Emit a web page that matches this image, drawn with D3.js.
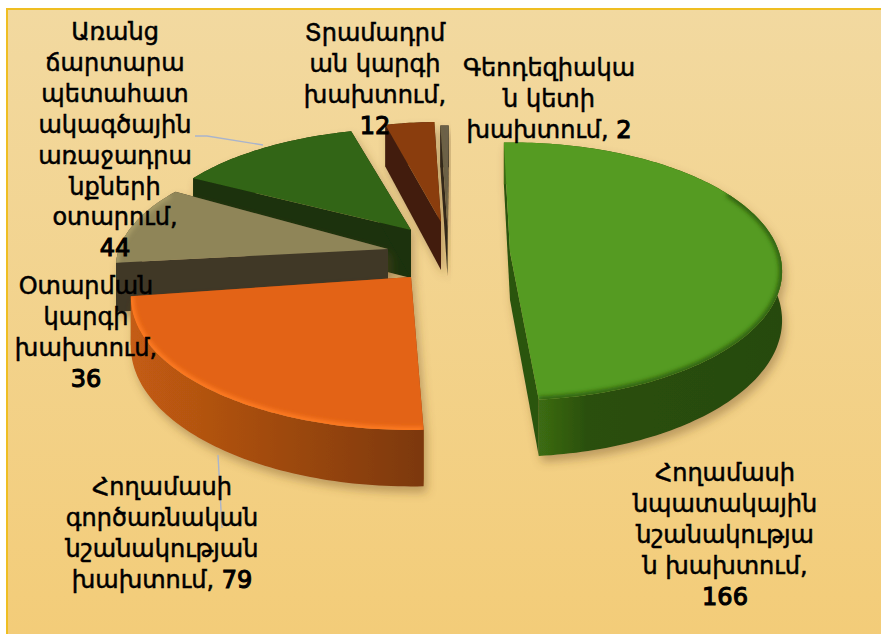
<!DOCTYPE html>
<html><head><meta charset="utf-8">
<script src="https://cdn.jsdelivr.net/npm/d3@7"></script>
<style>html,body{margin:0;padding:0;background:#fff}svg{display:block}</style>
</head><body><svg id="c" width="881" height="634"></svg>
<script>
// Data
const categories = [
  "Հողամասի նպատակային նշանակության խախտում",
  "Հողամասի գործառնական նշանակության խախտում",
  "Օտարման կարգի խախտում",
  "Առանց ճարտարապետահատակագծային առաջադրանքների օտարում",
  "Տրամադրման կարգի խախտում",
  "Գեոդեզիական կետի խախտում"
];
const values = [166, 79, 36, 44, 12, 2];
const labelLines = [
  ["Հողամասի","նպատակային","նշանակությա","ն խախտում,","166"],
  ["Հողամասի","գործառնական","նշանակության","խախտում, 79"],
  ["Օտարման","կարգի","խախտում,","36"],
  ["Առանց","ճարտարա","պետահատ","ակագծային","առաջադրա","նքների","օտարում,","44"],
  ["Տրամադրմ","ան կարգի","խախտում,","12"],
  ["Գեոդեզիակա","ն կետի","խախտում, 2"]
];

// Layout (separate from the data)
const W = 881, H = 634, K = 0.15, DEPTH = 48, START = -1.5;
const explode = [
  {x:510,y:252,rx:269,ry:126,turn:0},
  {x:411,y:277,rx:277,ry:130,turn:3.0},
  {x:388,y:249,rx:269,ry:118,turn:4.7},
  {x:411,y:230,rx:265,ry:117,turn:1.4},
  {x:441,y:222,rx:255,ry:115,turn:1.9},
  {x:447.5,y:228,rx:260,ry:118,turn:1.8}
];
const looks = [
  {top:"#549b20",rim:"#2f5f10",wall:["#3c6c12","#2a4f0e","#274a0c"],cut:"#2c5410"},
  {top:"#e36418",rim:"#ff7c22",wall:["#7c380c","#a04a10","#c45c12"],cut:"#8a3e0e"},
  {top:"#8f8558",rim:"#a89c68",wall:["#403828","#403828","#403828"],cut:"#403828"},
  {top:"#336515",rim:"#336515",wall:["#1a330a","#1a330a","#1a330a"],cut:"#1a330a"},
  {top:"#8a3e0c",rim:"#8a3e0c",wall:["#431f08","#431f08","#431f08"],cut:"#431f08"},
  {top:"#6c6248",rim:"#6c6248",wall:["#2a2418","#2a2418","#2a2418"],cut:"#2a2418"}
];
const labelPos = [
  {x:725,y:481,dy:31},{x:162,y:495,dy:31},{x:86,y:294,dy:31},
  {x:115,y:40,dy:30.9},{x:375,y:41,dy:31},{x:549,y:76,dy:31}
];

const svg = d3.select("#c");
const defs = svg.append("defs");

const bg = defs.append("linearGradient").attr("id","bg").attr("x1",0).attr("y1",0).attr("x2",0).attr("y2",1);
bg.append("stop").attr("offset",0).attr("stop-color","#f2d9a0");
bg.append("stop").attr("offset",1).attr("stop-color","#f3cc78");

defs.append("filter").attr("id","shadow").attr("x","-20%").attr("y","-20%").attr("width","140%").attr("height","140%")
  .append("feDropShadow").attr("dx",3).attr("dy",6).attr("stdDeviation",5)
  .attr("flood-color","#6b4a20").attr("flood-opacity",0.4);
defs.append("filter").attr("id","soft").attr("x","-10%").attr("y","-10%").attr("width","120%").attr("height","120%")
  .append("feGaussianBlur").attr("stdDeviation",2);

svg.append("rect").attr("x",7).attr("y",9).attr("width",W).attr("height",H)
  .attr("fill","url(#bg)").attr("stroke","#efbe22").attr("stroke-width",2);

// Pie angles come from the values
const arcs = d3.pie().sort(null).value(d=>d)
  .startAngle(START*Math.PI/180).endAngle((START+360)*Math.PI/180)(values);

function project(L, t, z){
  const Y = -Math.cos(t);
  const s = 1/(1-K*Y);
  return [L.x + L.rx*Math.sin(t)*s, L.y + L.ry*Y*s + z*DEPTH*s];
}
const line = d3.line();
function arcPts(L,a0,a1,z){
  const n = Math.max(2,Math.ceil((a1-a0)/0.02));
  return d3.range(n+1).map(i=>project(L,a0+(a1-a0)*i/n,z));
}
const apex = (L,z)=>[L.x, L.y + z*DEPTH];

// Painted back to front
const order = [5,4,3,2,1,0];
const g = svg.append("g");
order.forEach(i=>{
  const A = arcs[i], L = explode[i], S = looks[i];
  const d2r = Math.PI/180;
  const a0 = A.startAngle + L.turn*d2r, a1 = A.endAngle + L.turn*d2r;
  const top = arcPts(L,a0,a1,0), bot = arcPts(L,a0,a1,1);
  const gid = "w"+i, xs = top.map(p=>p[0]);
  const wg = defs.append("linearGradient").attr("id",gid).attr("gradientUnits","userSpaceOnUse")
    .attr("x1",d3.min(xs)).attr("x2",d3.max(xs)).attr("y1",0).attr("y2",0);
  if(i===0){
    wg.attr("x1",539).attr("x2",781);
    [[0,S.wall[0]],[0.2,S.wall[1]],[1,S.wall[2]]].forEach(s=>wg.append("stop").attr("offset",s[0]).attr("stop-color",s[1]));
  } else {
    [[0,S.wall[2]],[0.5,S.wall[1]],[1,S.wall[0]]].forEach(s=>wg.append("stop").attr("offset",s[0]).attr("stop-color",s[1]));
  }
  const sg = g.append("g").attr("filter","url(#shadow)");
  [[top[0],bot[0]],[top[top.length-1],bot[bot.length-1]]].forEach(e=>{
    sg.append("path").attr("d",line([apex(L,0),e[0],e[1],apex(L,1)])+"Z").attr("fill",S.cut);
  });
  sg.append("path").attr("d",line(top.concat(bot.slice().reverse()))+"Z").attr("fill",`url(#${gid})`);
  const topD = line([apex(L,0)].concat(top))+"Z";
  sg.append("path").attr("d",topD).attr("fill",S.top);
  const cid = "t"+i;
  defs.append("clipPath").attr("id",cid).append("path").attr("d",topD);
  // Bevel only along the part of the rim that faces the viewer
  const front = arcPts(L,a0,a1,0).filter((p,k,arr)=>{
    const t = a0+(a1-a0)*k/(arr.length-1);
    return -Math.cos(t) > -0.5;
  });
  if(front.length>1){
    g.append("g").attr("clip-path",`url(#${cid})`).append("path").attr("d",line(front))
      .attr("fill","none").attr("stroke",S.rim).attr("stroke-width",6).attr("filter","url(#soft)");
  }
});

// Leader lines
const leaders = [
  [[195,136],[207,136],[263,145]],
  [[218,455],[222,528]]
];
svg.append("g").selectAll("path").data(leaders).join("path")
  .attr("d",d=>line(d)).attr("fill","none").attr("stroke","#a9b4cc").attr("stroke-width",1.4);

// Labels
const tg = svg.append("g").attr("font-family","'DejaVu Sans',sans-serif").attr("font-size",24)
  .attr("fill","#000").attr("stroke","#000").attr("stroke-width",0.5).attr("text-anchor","middle");
labelLines.forEach((lines,i)=>{
  const P = labelPos[i];
  const t = tg.append("text").attr("data-name",categories[i]);
  lines.forEach((s,j)=>{
    const y = P.y+j*P.dy;
    const m = s.match(/^(.*?)(\d+)$/);
    if(m && m[1]){
      t.append("tspan").attr("x",P.x).attr("y",y).text(m[1]);
      t.append("tspan").attr("stroke-width",1.1).text(m[2]);
    } else if(m){
      t.append("tspan").attr("x",P.x).attr("y",y).attr("stroke-width",1.1).text(m[2]);
    } else {
      t.append("tspan").attr("x",P.x).attr("y",y).text(s);
    }
  });
});
</script></body></html>
